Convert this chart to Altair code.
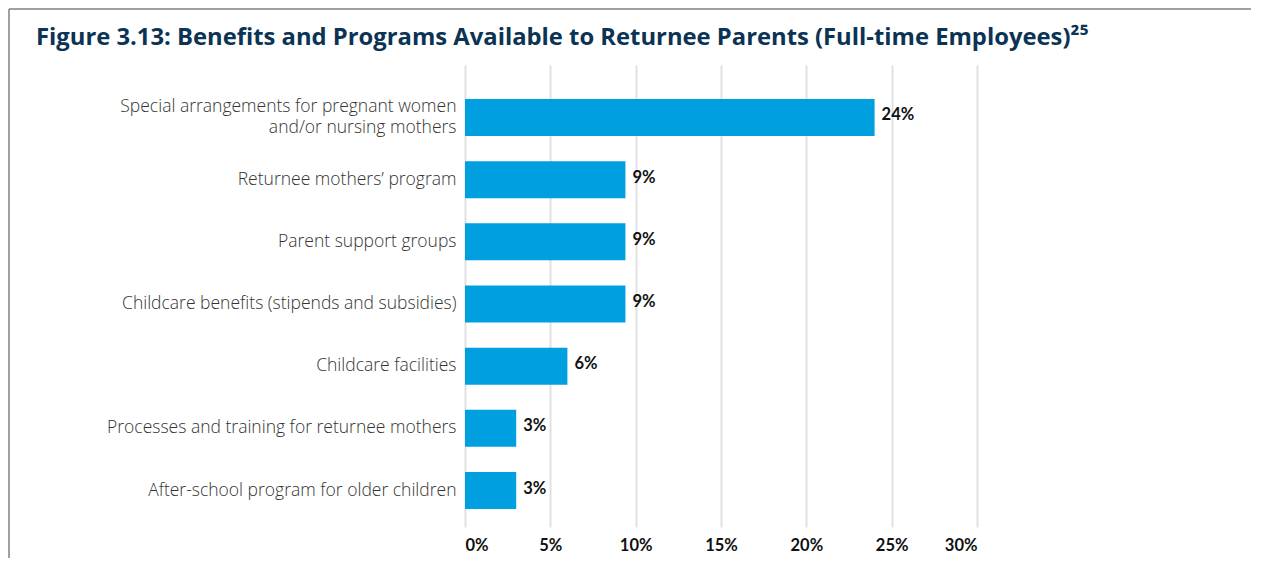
import altair as alt
import pandas as pd

categories = [
    "Special arrangements for pregnant women|and/or nursing mothers",
    "Returnee mothers’ program",
    "Parent support groups",
    "Childcare benefits (stipends and subsidies)",
    "Childcare facilities",
    "Processes and training for returnee mothers",
    "After-school program for older children",
]
values = [24.0, 9.4, 9.4, 9.4, 6.0, 3.0, 3.0]
value_labels = ["24%", "9%", "9%", "9%", "6%", "3%", "3%"]
x_ticks = [0, 5, 10, 15, 20, 25, 30]
title_text = "Figure 3.13: Benefits and Programs Available to Returnee Parents (Full-time Employees)²⁵"

df = pd.DataFrame({"category": categories, "value": values, "label": value_labels})
one = pd.DataFrame({"k": [0]})

W, H = 512, 462

y_enc = alt.Y(
    "category:N",
    sort=categories,
    scale=alt.Scale(paddingInner=0.405, paddingOuter=0.418, align=0.654),
    axis=alt.Axis(
        title=None, domain=False, ticks=False, labelPadding=9,
        labelFontSize=17.5, labelFont="Open Sans", labelFontWeight=300,
        labelColor="#333333", labelExpr="split(datum.label, '|')",
        labelLineHeight=21, labelLimit=440,
        labelOffset={"condition": {"test": "indexof(datum.value, '|') >= 0", "value": -10.5}, "value": 0},
    ),
)
x_enc = alt.X(
    "value:Q",
    scale=alt.Scale(domain=[0, 30], nice=False),
    axis=alt.Axis(
        title=None, values=x_ticks, labelExpr="datum.value + '%'",
        domain=False, ticks=False, grid=True, gridColor="#e1e1e1", gridWidth=2,
        labelPadding=10, labelFont="Lato", labelFontWeight="bold",
        labelFontSize=16.5, labelColor="#111111",
    ),
)

base = alt.Chart(df)
bars = base.mark_bar(color="#009fe0").encode(x=x_enc, y=y_enc)
texts = base.mark_text(
    align="left", baseline="middle", dx=7, dy=-2, font="Lato",
    fontWeight="bold", fontSize=16.5, color="#111111",
).encode(x="value:Q", y=alt.Y("category:N", sort=categories), text="label:N")

border_v = alt.Chart(one).mark_rule(color="#808080", strokeWidth=1.5).encode(
    x=alt.value(-456), y=alt.value(-56), y2=alt.value(493)
)
border_h = alt.Chart(one).mark_rule(color="#808080", strokeWidth=1.5).encode(
    x=alt.value(-456), x2=alt.value(786), y=alt.value(-56)
)
title = alt.Chart(one).mark_text(
    align="left", baseline="alphabetic", font="Open Sans", fontWeight="bold",
    fontSize=23.8, color="#0b3354",
).encode(x=alt.value(35 - 464), y=alt.value(45 - 65), text=alt.value(title_text))

chart = alt.layer(bars, texts, border_v, border_h, title).properties(
    width=W, height=H, padding=0
).configure_view(stroke=None)

chart.save("out.html", embed_options={"renderer": "svg", "actions": False})
